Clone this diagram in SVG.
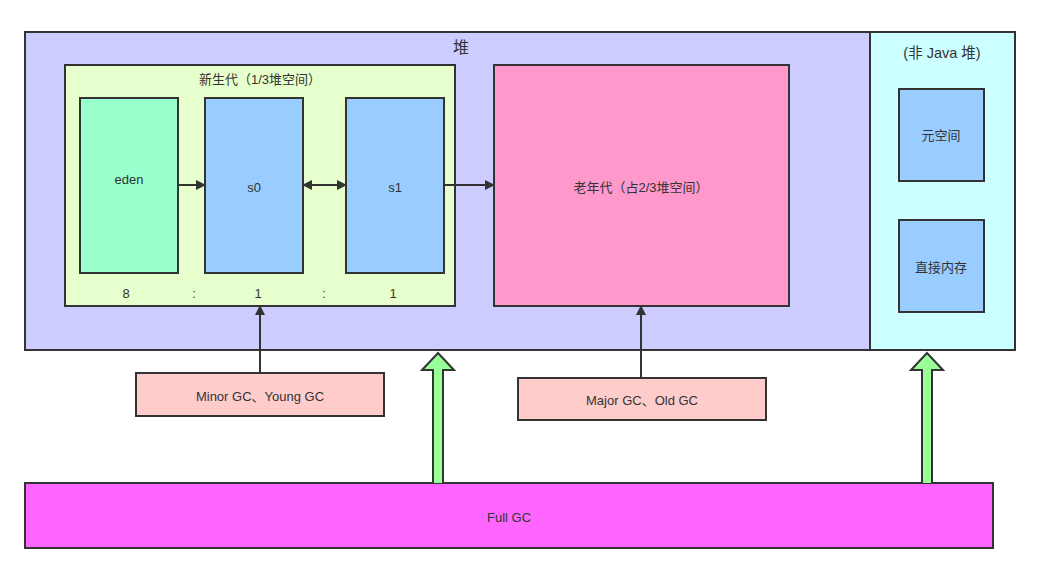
<svg xmlns="http://www.w3.org/2000/svg" width="1046" height="573" viewBox="0 0 1046 573">
<defs>
<style>
.b{stroke:#333;stroke-width:2}
.t{font-family:"Liberation Sans","Noto Sans CJK SC",sans-serif;font-size:13px;fill:#333;text-anchor:middle}
.c{stroke:#333;stroke-width:2;fill:none}
.g{fill:#99ff99;stroke:#333;stroke-width:2}
</style>
<marker id="ah" markerWidth="10" markerHeight="10" refX="9" refY="5" orient="auto-start-reverse" markerUnits="userSpaceOnUse"><path d="M0,0 L10,5 L0,10 Z" fill="#333"/></marker>
</defs>
<rect width="1046" height="573" fill="#fff"/>
<g id="heap"><rect x="25" y="32" width="845" height="318" fill="#ccccff" class="b"/><text x="461" y="53" class="t" style="font-size:16px">堆</text></g>
<g id="nonheap"><rect x="870" y="32" width="145" height="318" fill="#ccffff" class="b"/><text x="942" y="58" class="t" style="font-size:14.5px">(非 Java 堆)</text></g>
<g id="young"><rect x="65" y="65" width="390" height="241" fill="#e6ffcc" class="b"/><text x="260" y="84" class="t">新生代（1/3堆空间）</text>
<text x="126" y="298" class="t">8</text><text x="194" y="298" class="t">:</text><text x="258" y="298" class="t">1</text><text x="324" y="298" class="t">:</text><text x="393" y="298" class="t">1</text></g>
<g id="eden"><rect x="80" y="98" width="98" height="175" fill="#99ffcc" class="b"/><text x="129" y="184" class="t">eden</text></g>
<g id="s0"><rect x="205" y="98" width="98" height="175" fill="#99ccff" class="b"/><text x="254" y="192" class="t">s0</text></g>
<g id="s1"><rect x="346" y="98" width="98" height="175" fill="#99ccff" class="b"/><text x="395" y="192" class="t">s1</text></g>
<g id="old"><rect x="494" y="65" width="295" height="241" fill="#ff99cc" class="b"/><text x="641" y="192" class="t">老年代（占2/3堆空间）</text></g>
<g id="meta"><rect x="899" y="89" width="85" height="92" fill="#99ccff" class="b"/><text x="941" y="140" class="t">元空间</text></g>
<g id="direct"><rect x="899" y="220" width="85" height="92" fill="#99ccff" class="b"/><text x="941" y="272" class="t">直接内存</text></g>
<g id="minor"><rect x="136" y="373" width="248" height="43" fill="#ffcccc" class="b"/><text x="260" y="401" class="t">Minor GC、Young GC</text></g>
<g id="major"><rect x="518" y="378" width="248" height="42" fill="#ffcccc" class="b"/><text x="642" y="405" class="t">Major GC、Old GC</text></g>
<g id="full"><rect x="25" y="483" width="968" height="65" fill="#ff66ff" class="b"/><text x="509" y="522" class="t">Full GC</text></g>
<g id="connectors">
<line x1="178" y1="185" x2="205" y2="185" class="c" marker-end="url(#ah)"/>
<line x1="303" y1="185" x2="346" y2="185" class="c" marker-start="url(#ah)" marker-end="url(#ah)"/>
<line x1="444" y1="185" x2="494" y2="185" class="c" marker-end="url(#ah)"/>
<line x1="260" y1="373" x2="260" y2="306" class="c" marker-end="url(#ah)"/>
<line x1="641" y1="378" x2="641" y2="306" class="c" marker-end="url(#ah)"/>
<path d="M433,483 L433,370 L422,370 L438,353 L454,370 L443,370 L443,483" class="g"/>
<path d="M922,483 L922,370 L911,370 L927,353 L943,370 L932,370 L932,483" class="g"/>
</g>
</svg>
